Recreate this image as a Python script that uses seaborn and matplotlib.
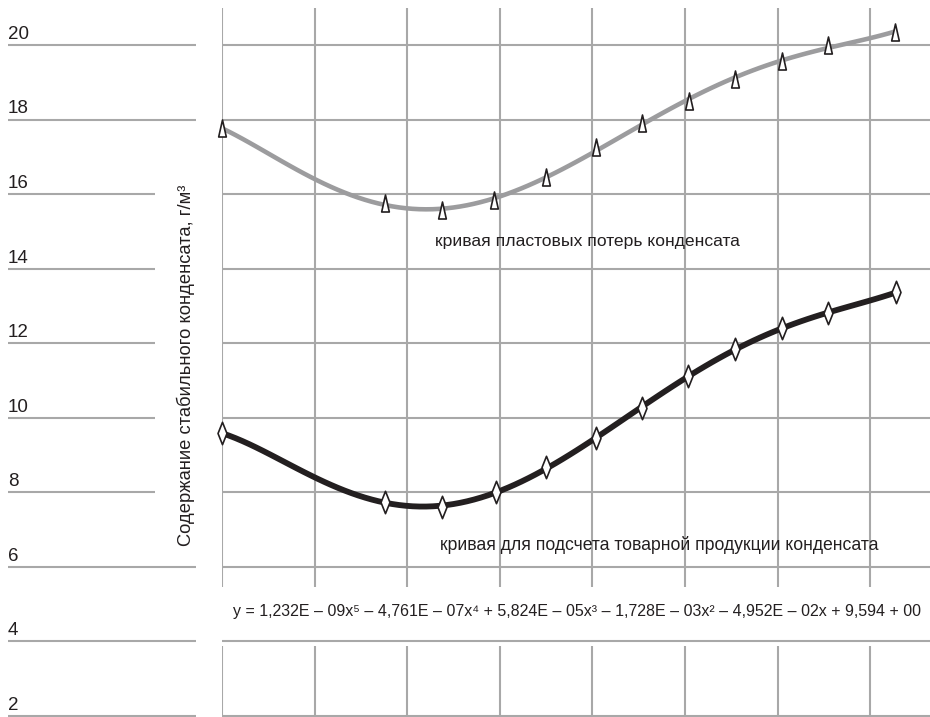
import numpy as np
import pandas as pd
import matplotlib
matplotlib.use("Agg")
import matplotlib.pyplot as plt
import seaborn as sns
from matplotlib.path import Path

sns.set_theme(style="white")
plt.rcParams['font.family'] = ['Liberation Sans Narrow', 'Liberation Sans', 'DejaVu Sans']

# ---- data ----
x_loss = [0, 17.6, 23.8, 29.4, 35.0, 40.4, 45.4, 50.4, 55.4, 60.5, 65.4, 72.7]
y_loss = [17.77, 15.76, 15.57, 15.84, 16.46, 17.26, 17.91, 18.50, 19.09, 19.57, 20.00, 20.35]
x_prod = [0, 17.6, 23.8, 29.6, 35.0, 40.4, 45.4, 50.3, 55.4, 60.5, 65.4, 72.8]
y_prod = [9.59, 7.74, 7.61, 8.01, 8.68, 9.46, 10.26, 11.12, 11.85, 12.41, 12.81, 13.37]
y_ticks = [2, 4, 6, 8, 10, 12, 14, 16, 18, 20]
x_grid = [0, 10, 20, 30, 40, 50, 60, 70]

label_loss = "кривая пластовых потерь конденсата"
label_prod = "кривая для подсчета товарной продукции конденсата"
formula = ("y = 1,232E – 09x⁵ – 4,761E – 07x⁴ + 5,824E – 05x³ – 1,728E – 03x² "
           "– 4,952E – 02x + 9,594 + 00")
ylabel = "Содержание стабильного конденсата, г/м³"

df_loss = pd.DataFrame({"x": x_loss, "y": y_loss})
df_prod = pd.DataFrame({"x": x_prod, "y": y_prod})

W, H = 930, 717
fig = plt.figure(figsize=(W / 100, H / 100), dpi=100)

ylim = (2 - 1 / 37.28, 21.0)
# main axes
ax = fig.add_axes([222 / W, 0 / H, 708 / W, 709 / H])
ax.set_xlim(0, 708 / 9.26)
ax.set_ylim(*ylim)
ax.axis('off')

grid_c = '#a8a8a8'
for yv in y_ticks:
    ax.axhline(yv, color=grid_c, lw=1.5, zorder=0)
for xv in x_grid:
    ax.vlines(xv, 5.45, 21.0, color=grid_c, lw=1.5, zorder=0)
    ax.vlines(xv, 2.0, 3.88, color=grid_c, lw=1.5, zorder=0)

sns.regplot(data=df_loss, x="x", y="y", order=5, ci=None, scatter=False, ax=ax,
            line_kws=dict(color='#9c9c9e', lw=3.3, solid_capstyle='butt', zorder=2))
sns.regplot(data=df_prod, x="x", y="y", order=5, ci=None, scatter=False, ax=ax,
            line_kws=dict(color='#231f20', lw=4.2, solid_capstyle='butt', zorder=2))

tri = Path([(-0.45, -1.0), (0.45, -1.0), (0.0, 1.0), (-0.45, -1.0)],
           [Path.MOVETO, Path.LINETO, Path.LINETO, Path.CLOSEPOLY])
dia = Path([(0.0, -1.0), (0.4, 0.0), (0.0, 1.0), (-0.4, 0.0), (0.0, -1.0)],
           [Path.MOVETO, Path.LINETO, Path.LINETO, Path.LINETO, Path.CLOSEPOLY])

sns.scatterplot(data=df_loss, x="x", y="y", marker=tri, s=150, color='white',
                edgecolor='#231f20', linewidth=1.2, ax=ax, zorder=3, clip_on=False)
sns.scatterplot(data=df_prod, x="x", y="y", marker=dia, s=260, color='white',
                edgecolor='#231f20', linewidth=1.2, ax=ax, zorder=3, clip_on=False)
ax.axis('off')

txt_c = '#231f20'
ax.text(23.0, 14.74, label_loss, fontsize=12.6, color=txt_c, va='center', ha='left')
ax.text(23.5, 6.6, label_prod, fontsize=12.7, color=txt_c, va='center', ha='left')
ax.text(38.3, 4.8, formula, fontsize=11.55, color=txt_c, va='center', ha='center')

# left label axes
axl = fig.add_axes([8 / W, 0 / H, 188 / W, 709 / H])
axl.set_xlim(0, 188)
axl.set_ylim(*ylim)
axl.axis('off')
for yv in y_ticks:
    xmax = 147 if 8 <= yv <= 16 else 188
    axl.hlines(yv, 0, xmax, color=grid_c, lw=1.5)
    axl.text(0, yv + 0.17, str(yv), fontsize=13.5, color=txt_c, ha='left', va='baseline')

fig.text(186 / W, 1 - 365 / H, ylabel, rotation=90, fontsize=13.2, color=txt_c,
         ha='center', va='center')

fig.savefig("out.png", dpi=100)
